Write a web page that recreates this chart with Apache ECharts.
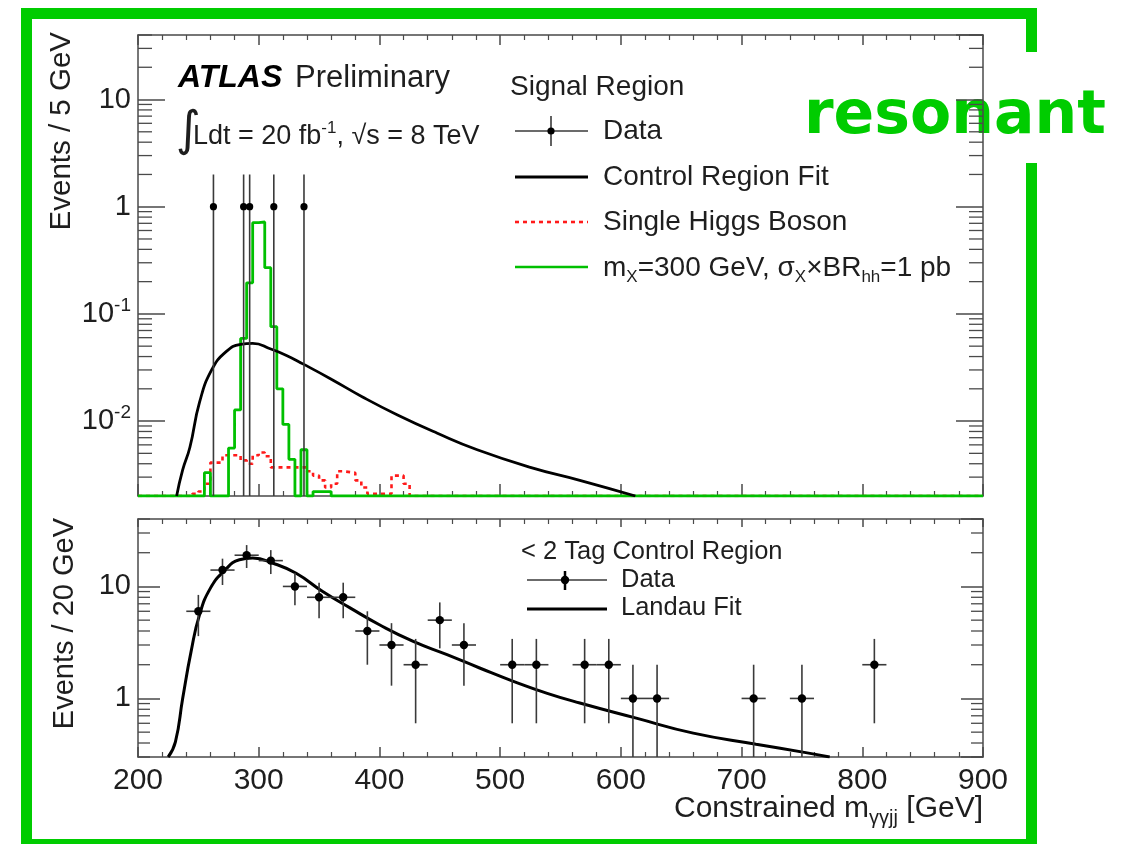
<!DOCTYPE html>
<html><head><meta charset="utf-8">
<script src="https://cdn.jsdelivr.net/npm/echarts@6/dist/echarts.min.js"></script>
<style>html,body{margin:0;padding:0;background:#fff}#c{width:1134px;height:844px}</style>
</head><body><div id="c"></div>
<script>
// ---------- DATA ----------
// Top panel (Signal Region, 5 GeV bins)
const sigDataX  = [262.5, 287.5, 292.5, 312.5, 337.5];
const sigDataY  = [1, 1, 1, 1, 1];
const sigDataHi = [2, 2, 2, 2, 2];
const sigDataLo = [0, 0, 0, 0, 0];

const crFitX = [232, 237, 243, 251, 261, 273, 285, 295, 310, 323, 337, 359, 386, 415, 448, 481, 525, 566, 612];
const crFitY = [0.002, 0.0035, 0.0057, 0.015, 0.030, 0.0445, 0.052, 0.053, 0.047, 0.041, 0.034, 0.025, 0.0168, 0.0114, 0.0077, 0.0054, 0.0037, 0.0028, 0.002];

const higgsEdges = [200, 245, 250, 255, 260, 270, 285, 290, 295, 300, 305, 310, 340, 345, 350, 355, 360, 365, 370, 380, 385, 390, 410, 420, 425, 900];
const higgsVals  = [0.002, 0.0021, 0.0022, 0.0026, 0.0041, 0.0048, 0.0043, 0.0040, 0.0048, 0.0051, 0.0047, 0.0037, 0.0034, 0.0031, 0.0028, 0.0024, 0.0026, 0.0034, 0.0033, 0.0028, 0.0024, 0.0021, 0.0031, 0.0026, 0.002, 0.002];

const mxEdges = [200, 255, 260, 275, 280, 285, 290, 295, 300, 305, 310, 315, 320, 325, 330, 335, 340, 345, 360, 900];
const mxVals  = [0.002, 0.0033, 0.002, 0.0056, 0.0127, 0.059, 0.195, 0.71, 0.72, 0.27, 0.076, 0.020, 0.0093, 0.0044, 0.002, 0.0054, 0.002, 0.0022, 0.002, 0.002];

// Bottom panel (< 2 tag control region, 20 GeV bins)
const crDataX  = [250, 270, 290, 310, 330, 350, 370, 390, 410, 430, 450, 470, 510, 530, 570, 590, 610, 630, 710, 750, 810];
const crDataY  = [6, 14, 19, 17, 10, 8, 8, 4, 3, 2, 5, 3, 2, 2, 2, 2, 1, 1, 1, 1, 2];
const crDataHi = [8.4, 17.7, 23.4, 21.1, 13.2, 10.8, 10.8, 6.0, 4.7, 3.4, 7.2, 4.7, 3.4, 3.4, 3.4, 3.4, 2, 2, 2, 2, 3.4];
const crDataLo = [3.6, 10.3, 14.6, 12.9, 6.8, 5.2, 5.2, 2.0, 1.3, 0.6, 2.8, 1.3, 0.6, 0.6, 0.6, 0.6, 0, 0, 0, 0, 0.6];

const landauX = [225, 231, 237, 244, 251, 260, 271, 284, 295, 312, 331, 353, 376, 400, 428, 456, 483, 511, 539, 566, 612, 660, 712, 752, 773];
const landauY = [0.3, 0.41, 1.0, 2.63, 5.6, 9.66, 13.6, 17.3, 17.9, 16.1, 13.1, 9.0, 6.4, 4.55, 3.23, 2.46, 1.87, 1.42, 1.11, 0.91, 0.67, 0.49, 0.39, 0.33, 0.30];

const xTickInterval = 100;
// ---------- END DATA ----------

const FONT = '"Liberation Sans", Arial, Helvetica, sans-serif';
const TXT = '#1e1e1e';
const AX = '#4a4a4a';

// minor tick positions for log axes (2..9 x 10^k)
const logMinor = [];
for (let k = -3; k <= 1; k++) for (let m = 2; m <= 9; m++) logMinor.push(parseFloat((m * Math.pow(10, k)).toPrecision(3)));

function logLabel(v) {
  const l = Math.log10(v), k = Math.round(l);
  if (Math.abs(l - k) > 1e-6) return '';
  if (k === 0) return '1';
  if (k === 1) return '10';
  return '10{sup|' + k + '}';
}

function xAx(grid, pos, majLen, showLabel) {
  return {
    gridIndex: grid, type: 'value', position: pos, min: 200, max: 900, interval: xTickInterval,
    axisLine: { show: true, onZero: false, lineStyle: { color: AX, width: 1.5 } },
    axisTick: { show: true, inside: true, length: majLen, lineStyle: { color: AX, width: 1.5 } },
    minorTick: { show: true, splitNumber: 5, length: 5, lineStyle: { color: AX, width: 1.2 } },
    splitLine: { show: false }, minorSplitLine: { show: false },
    axisLabel: { show: showLabel, fontSize: 30, fontFamily: FONT, color: TXT, margin: 9 }
  };
}
function yAx(grid, pos, min, max, majLen, showLabel) {
  return {
    gridIndex: grid, type: 'log', logBase: 10, position: pos, min: min, max: max,
    axisLine: { show: true, onZero: false, lineStyle: { color: AX, width: 1.5 } },
    axisTick: { show: true, inside: true, length: majLen, lineStyle: { color: AX, width: 1.5 } },
    splitLine: { show: false },
    axisLabel: {
      show: showLabel, fontSize: 29, fontFamily: FONT, color: TXT, margin: 7, lineHeight: 36,
      formatter: logLabel, showMinLabel: false, showMaxLabel: false,
      rich: { sup: { fontSize: 19, fontFamily: FONT, color: TXT, verticalAlign: 'top', lineHeight: 19 } }
    }
  };
}

function errItem(params, api) {
  const x = api.value(0), y = api.value(1), lo = api.value(2), hi = api.value(3), hw = api.value(4), r = api.value(5);
  const cs = params.coordSys;
  const bot = cs.y + cs.height;
  const p = api.coord([x, y]);
  const pHi = api.coord([x, hi]);
  const yLo = lo > 0 ? api.coord([x, lo])[1] : bot;
  const pL = api.coord([x - hw, y]), pR = api.coord([x + hw, y]);
  const st = { stroke: '#3a3a3a', lineWidth: 1.6 };
  return { type: 'group', children: [
    { type: 'line', shape: { x1: p[0], y1: Math.max(pHi[1], cs.y), x2: p[0], y2: Math.min(yLo, bot) }, style: st },
    { type: 'line', shape: { x1: pL[0], y1: p[1], x2: pR[0], y2: p[1] }, style: st },
    { type: 'circle', shape: { cx: p[0], cy: p[1], r: r }, style: { fill: '#000' } }
  ]};
}

function minorTicks(len) {
  return function (params, api) {
    const cs = params.coordSys;
    const yy = api.coord([300, api.value(1)])[1];
    if (yy < cs.y - 0.5 || yy > cs.y + cs.height + 0.5) return null;
    const st = { stroke: AX, lineWidth: 1.3 };
    return { type: 'group', children: [
      { type: 'line', shape: { x1: cs.x, y1: yy, x2: cs.x + len, y2: yy }, style: st },
      { type: 'line', shape: { x1: cs.x + cs.width - len, y1: yy, x2: cs.x + cs.width, y2: yy }, style: st }
    ]};
  };
}

const zip = (a, b) => a.map((v, i) => [v, b[i]]);

const option = {
  animation: false,
  backgroundColor: '#fff',
  grid: [
    { left: 138, top: 35, width: 845, height: 461 },
    { left: 138, top: 519, width: 845, height: 238 }
  ],
  xAxis: [ xAx(0, 'bottom', 12, false), xAx(0, 'top', 10, false), xAx(1, 'bottom', 10, true), xAx(1, 'top', 8, false) ],
  yAxis: [ yAx(0, 'left', 0.002, 40, 27, true), yAx(0, 'right', 0.002, 40, 27, false),
           yAx(1, 'left', 0.3, 40, 22, true), yAx(1, 'right', 0.3, 40, 22, false) ],
  series: [
    { type: 'custom', name: 'minorTop', xAxisIndex: 0, yAxisIndex: 0, silent: true, renderItem: minorTicks(14),
      data: logMinor.map(v => [300, v]), encode: { x: 0, y: 1 } },
    { type: 'custom', name: 'minorBot', xAxisIndex: 2, yAxisIndex: 2, silent: true, renderItem: minorTicks(12),
      data: logMinor.map(v => [300, v]), encode: { x: 0, y: 1 } },
    { type: 'line', name: 'Single Higgs Boson', xAxisIndex: 0, yAxisIndex: 0, step: 'end', symbol: 'none',
      data: zip(higgsEdges, higgsVals), lineStyle: { color: '#ff1a1a', width: 2.6, type: [4, 4] }, z: 3 },
    { type: 'line', name: 'mX=300 GeV', xAxisIndex: 0, yAxisIndex: 0, step: 'end', symbol: 'none',
      data: zip(mxEdges, mxVals), lineStyle: { color: '#00c000', width: 2.8 }, z: 4 },
    { type: 'line', name: 'Control Region Fit', xAxisIndex: 0, yAxisIndex: 0, smooth: 0.5, symbol: 'none',
      data: zip(crFitX, crFitY), lineStyle: { color: '#000', width: 2.8 }, z: 5 },
    { type: 'custom', name: 'Data', xAxisIndex: 0, yAxisIndex: 0, renderItem: errItem, clip: true, z: 6,
      data: sigDataX.map((x, i) => [x, sigDataY[i], sigDataLo[i], sigDataHi[i], 2.5, 3.6]), encode: { x: 0, y: 1 } },
    { type: 'line', name: 'Landau Fit', xAxisIndex: 2, yAxisIndex: 2, smooth: 0.5, symbol: 'none',
      data: zip(landauX, landauY), lineStyle: { color: '#000', width: 3 }, z: 5 },
    { type: 'custom', name: 'CR Data', xAxisIndex: 2, yAxisIndex: 2, renderItem: errItem, clip: true, z: 6,
      data: crDataX.map((x, i) => [x, crDataY[i], crDataLo[i], crDataHi[i], 10, 4.2]), encode: { x: 0, y: 1 } }
  ],
  graphic: [
    // green frame
    { type: 'polyline', silent: true, shape: { points: [[1031.5, 52], [1031.5, 13.5], [26.5, 13.5], [26.5, 844.5], [1031.5, 844.5], [1031.5, 163]] },
      style: { stroke: '#00cc00', lineWidth: 11, fill: null, lineJoin: 'miter' } },
    { type: 'text', x: 804, y: 117, style: { text: 'resonant', font: 'bold 60px "DejaVu Sans"', fill: '#00cc00', verticalAlign: 'middle' } },
    // ATLAS label
    { type: 'text', x: 178, y: 78, style: { text: 'ATLAS', font: 'italic bold 32px ' + FONT, fill: '#000', verticalAlign: 'middle' } },
    { type: 'text', x: 295, y: 78, style: { text: 'Preliminary', font: '31px ' + FONT, fill: TXT, verticalAlign: 'middle' } },
    { type: 'text', x: 176, y: 133, style: { text: '∫', font: '48px "DejaVu Sans"', fill: TXT, verticalAlign: 'middle' } },
    { type: 'text', x: 193, y: 137, style: { text: '{n|Ldt = 20 fb}{p|-1}{n|, √s = 8 TeV}', verticalAlign: 'middle',
      rich: { n: { font: '27px ' + FONT, fill: TXT, lineHeight: 34 }, p: { font: '17px ' + FONT, fill: TXT, lineHeight: 17, verticalAlign: 'top' } } } },
    // top legend
    { type: 'text', x: 510, y: 87, style: { text: 'Signal Region', font: '28px ' + FONT, fill: TXT, verticalAlign: 'middle' } },
    { type: 'line', shape: { x1: 515, y1: 131, x2: 588, y2: 131 }, style: { stroke: '#3a3a3a', lineWidth: 1.6 } },
    { type: 'line', shape: { x1: 551, y1: 116, x2: 551, y2: 146 }, style: { stroke: '#3a3a3a', lineWidth: 1.6 } },
    { type: 'circle', shape: { cx: 551, cy: 131, r: 3.6 }, style: { fill: '#000' } },
    { type: 'text', x: 603, y: 131, style: { text: 'Data', font: '28px ' + FONT, fill: TXT, verticalAlign: 'middle' } },
    { type: 'line', shape: { x1: 515, y1: 177, x2: 588, y2: 177 }, style: { stroke: '#000', lineWidth: 2.8 } },
    { type: 'text', x: 603, y: 177, style: { text: 'Control Region Fit', font: '28px ' + FONT, fill: TXT, verticalAlign: 'middle' } },
    { type: 'line', shape: { x1: 515, y1: 222, x2: 588, y2: 222 }, style: { stroke: '#ff1a1a', lineWidth: 2.6, lineDash: [4, 4] } },
    { type: 'text', x: 603, y: 222, style: { text: 'Single Higgs Boson', font: '28px ' + FONT, fill: TXT, verticalAlign: 'middle' } },
    { type: 'line', shape: { x1: 515, y1: 267, x2: 588, y2: 267 }, style: { stroke: '#00c000', lineWidth: 2.6 } },
    { type: 'text', x: 603, y: 268, style: { text: '{n|m}{s|X}{n|=300 GeV, σ}{s|X}{n|×BR}{s|hh}{n|=1 pb}', verticalAlign: 'middle',
      rich: { n: { font: '28px ' + FONT, fill: TXT, lineHeight: 36 }, s: { font: '17px ' + FONT, fill: TXT, lineHeight: 17, verticalAlign: 'bottom' } } } },
    // bottom legend
    { type: 'text', x: 521, y: 552, style: { text: '< 2 Tag Control Region', font: '25.5px ' + FONT, fill: TXT, verticalAlign: 'middle' } },
    { type: 'line', shape: { x1: 527, y1: 580, x2: 607, y2: 580 }, style: { stroke: '#3a3a3a', lineWidth: 1.6 } },
    { type: 'line', shape: { x1: 565, y1: 571, x2: 565, y2: 590 }, style: { stroke: '#000', lineWidth: 2.5 } },
    { type: 'circle', shape: { cx: 565, cy: 580, r: 4.2 }, style: { fill: '#000' } },
    { type: 'text', x: 621, y: 580, style: { text: 'Data', font: '25.5px ' + FONT, fill: TXT, verticalAlign: 'middle' } },
    { type: 'line', shape: { x1: 527, y1: 609, x2: 607, y2: 609 }, style: { stroke: '#000', lineWidth: 3.2 } },
    { type: 'text', x: 621, y: 608, style: { text: 'Landau Fit', font: '25.5px ' + FONT, fill: TXT, verticalAlign: 'middle' } },
    // axis titles
    { type: 'text', x: 62, y: 32, rotation: Math.PI / 2, style: { text: 'Events / 5 GeV', font: '29.5px ' + FONT, fill: TXT, align: 'right', verticalAlign: 'middle' } },
    { type: 'text', x: 65, y: 518, rotation: Math.PI / 2, style: { text: 'Events / 20 GeV', font: '29px ' + FONT, fill: TXT, align: 'right', verticalAlign: 'middle' } },
    { type: 'text', x: 983, y: 809, style: { text: '{n|Constrained m}{s|γγjj}{n| [GeV]}', align: 'right', verticalAlign: 'middle',
      rich: { n: { font: '30px ' + FONT, fill: TXT, lineHeight: 38 }, s: { font: '20px ' + FONT, fill: TXT, lineHeight: 20, verticalAlign: 'bottom' } } } }
  ]
};

const chart = echarts.init(document.getElementById('c'), null, { renderer: 'canvas' });
chart.setOption(option);
</script>
</body></html>
